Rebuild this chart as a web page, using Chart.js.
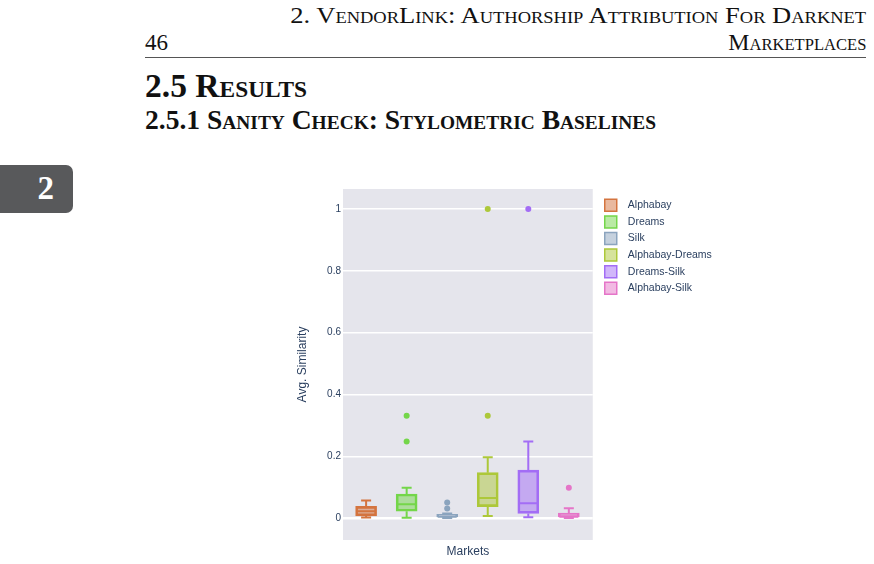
<!DOCTYPE html>
<html lang="en">
<head>
  <meta charset="UTF-8" />
  <title>Sanity Check: Stylometric Baselines</title>
  <script src="https://cdn.jsdelivr.net/npm/chart.js"></script>
  <style>
    html, body { margin: 0; padding: 0; background: #fff; }
    #page { position: relative; width: 874px; height: 564px; overflow: hidden; font-family: "Liberation Serif", "DejaVu Serif", serif; color: #111; }
    .txt { position: absolute; white-space: nowrap; line-height: 1; display: inline-block; }
    .sc { font-variant: small-caps; }
    .left { transform-origin: left center; }
    .right { transform-origin: right center; }
    #rule { position: absolute; left: 145px; top: 57px; width: 721px; height: 1px; background: #555; }
    #tab { position: absolute; left: -8px; top: 165px; width: 81px; height: 48px; background: #58595b; border-radius: 7px; }
    #chartBox { position: absolute; left: 280px; top: 180px; width: 460px; height: 384px; }
  </style>
</head>
<body>
<div id="page">
  <div class="txt sc right" style="right:8px; top:3.5px; font-size:23px;" data-w="576">2. VendorLink: Authorship Attribution For Darknet</div>
  <div class="txt left" style="left:145px; top:30.8px; font-size:23px;" data-w="23">46</div>
  <div class="txt sc right" style="right:8px; top:30.8px; font-size:23px;" data-w="138">Marketplaces</div>
  <div id="rule"></div>
  <div class="txt sc left" style="left:145px; top:67.8px; font-size:34.5px; font-weight:bold;" data-w="162">2.5 Results</div>
  <div class="txt sc left" style="left:145px; top:107.4px; font-size:27px; font-weight:bold;" data-w="511">2.5.1 Sanity Check: Stylometric Baselines</div>
  <div id="tab"></div>
  <div class="txt" style="left:37.5px; top:171.5px; font-size:33px; font-weight:bold; color:#fff;">2</div>
  <div id="chartBox"><canvas id="boxChart"></canvas></div>
</div>

<script>
  // markets compared (one box each)
  const categories = ['Alphabay', 'Dreams', 'Silk', 'Alphabay-Dreams', 'Dreams-Silk', 'Alphabay-Silk'];
  const whiskerLow  = [0.002, 0.001, 0.000, 0.007, 0.003, 0.000];
  const q1          = [0.007, 0.022, 0.000, 0.037, 0.015, 0.000];
  const medians     = [0.022, 0.045, 0.004, 0.065, 0.048, 0.004];
  const q3          = [0.038, 0.078, 0.012, 0.147, 0.155, 0.016];
  const whiskerHigh = [0.057, 0.098, 0.015, 0.197, 0.248, 0.032];
  const outliers    = [[], [0.331, 0.248], [0.050, 0.031], [1.0, 0.331], [1.0], [0.098]];
  const yTicks = [0, 0.2, 0.4, 0.6, 0.8, 1];

  const colors = ['#d4743f', '#74d64a', '#8ba4be', '#adc83a', '#a36df5', '#e575c8'];

  function fade(hex, a) {
    const n = parseInt(hex.slice(1), 16);
    return `rgba(${n >> 16}, ${(n >> 8) & 255}, ${n & 255}, ${a})`;
  }

  // fit running heads to their measured widths
  document.querySelectorAll('[data-w]').forEach(el => {
    const w = el.getBoundingClientRect().width;
    el.style.transform = `scaleX(${el.dataset.w / w})`;
  });

  const boxSets = categories.map((name, i) => ({
    type: 'bar',
    label: name,
    data: [{ x: i, y: [q1[i], q3[i]] }],
    backgroundColor: fade(colors[i], 0.5),
    borderColor: colors[i],
    borderWidth: 2,
    borderSkipped: false,
    barThickness: 21,
    grouped: false
  }));

  const pointSets = categories.map((name, i) => ({
    type: 'scatter',
    label: name + ' outliers',
    data: outliers[i].map(v => ({ x: i, y: v })),
    backgroundColor: colors[i],
    borderWidth: 0,
    pointRadius: 3
  }));

  const plotBg = {
    id: 'plotBg',
    beforeDraw(chart) {
      const { ctx, chartArea: a } = chart;
      ctx.save();
      ctx.fillStyle = '#e5e5ec';
      ctx.fillRect(a.left, a.top, a.right - a.left, a.bottom - a.top);
      ctx.restore();
    }
  };

  // whiskers, caps and median lines
  const whiskers = {
    id: 'whiskers',
    afterDatasetsDraw(chart) {
      const { ctx, scales: { x, y } } = chart;
      ctx.save();
      ctx.lineWidth = 2;
      categories.forEach((c, i) => {
        const cx = x.getPixelForValue(i);
        const hi = y.getPixelForValue(whiskerHigh[i]);
        const lo = y.getPixelForValue(whiskerLow[i]);
        const md = y.getPixelForValue(medians[i]);
        ctx.strokeStyle = colors[i];
        ctx.beginPath();
        ctx.moveTo(cx, y.getPixelForValue(q3[i])); ctx.lineTo(cx, hi);
        ctx.moveTo(cx, y.getPixelForValue(q1[i])); ctx.lineTo(cx, lo);
        ctx.moveTo(cx - 5, hi); ctx.lineTo(cx + 5, hi);
        ctx.moveTo(cx - 5, lo); ctx.lineTo(cx + 5, lo);
        ctx.moveTo(cx - 9.5, md); ctx.lineTo(cx + 9.5, md);
        ctx.stroke();
      });
      ctx.restore();
    }
  };

  // nudge legend next to the plot like the original
  const legendSpot = {
    id: 'legendSpot',
    afterLayout(chart) {
      const lg = chart.legend, a = chart.chartArea;
      const w = lg.right - lg.left, h = lg.bottom - lg.top;
      lg.left = a.right + 7.4; lg.right = lg.left + w + 30;
      lg.top = a.top + 5.7; lg.bottom = lg.top + h;
    }
  };

  const tickFont = { family: 'Liberation Sans, Arial, sans-serif', size: 10 };
  const titleFont = { family: 'Liberation Sans, Arial, sans-serif', size: 12 };

  new Chart(document.getElementById('boxChart'), {
    type: 'bar',
    data: { datasets: [...boxSets, ...pointSets] },
    options: {
      responsive: true,
      maintainAspectRatio: false,
      animation: false,
      layout: { padding: { top: 9, left: 0, right: 43, bottom: 0 } },
      scales: {
        x: {
          type: 'linear',
          offset: false,
          min: -0.57,
          max: 5.59,
          grid: { display: false },
          border: { display: false },
          ticks: { display: false },
          title: { display: true, text: 'Markets', color: '#2a3f5f', font: titleFont, padding: { top: 4, bottom: 4.8 } },
          afterFit(s) { s.height = 24; }
        },
        y: {
          min: -0.071,
          max: 1.065,
          afterBuildTicks(s) { s.ticks = yTicks.map(v => ({ value: v })); },
          grid: {
            color: '#ffffff',
            lineWidth: c => (c.tick && c.tick.value === 0 ? 2.5 : 1.5),
            drawTicks: false
          },
          border: { display: false },
          ticks: { color: '#2a3f5f', font: tickFont, padding: 2, callback: v => String(v) },
          title: { display: true, text: 'Avg. Similarity', color: '#2a3f5f', font: titleFont, padding: { top: 15.8, bottom: 4 } },
          afterFit(s) { s.width = 63; }
        }
      },
      plugins: {
        tooltip: { enabled: false },
        legend: {
          position: 'right',
          align: 'start',
          labels: {
            filter: item => item.datasetIndex < categories.length,
            generateLabels(chart) {
              const items = Chart.defaults.plugins.legend.labels.generateLabels(chart);
              items.forEach(it => { it.text = '  ' + it.text; it.lineWidth = 1.5; });
              return items;
            },
            boxWidth: 12,
            boxHeight: 12,
            padding: 4.6,
            color: '#2a3f5f',
            font: { family: 'Liberation Sans, Arial, sans-serif', size: 10.5 }
          }
        }
      }
    },
    plugins: [plotBg, whiskers, legendSpot]
  });
</script>
</body>
</html>
